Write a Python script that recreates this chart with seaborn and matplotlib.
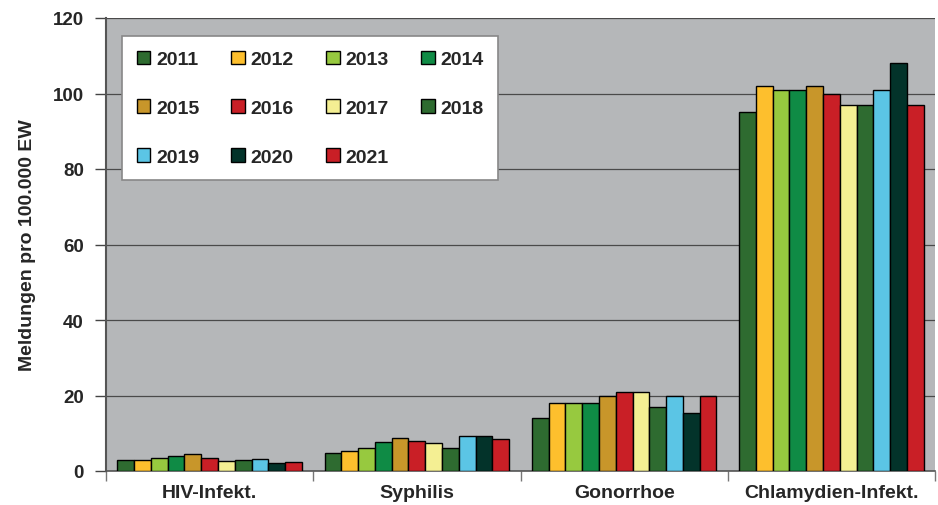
import matplotlib
matplotlib.use("Agg")
import matplotlib.pyplot as plt
import seaborn as sns
import pandas as pd
from matplotlib.ticker import FixedLocator

categories = ["HIV-Infekt.", "Syphilis", "Gonorrhoe", "Chlamydien-Infekt."]
years = ["2011", "2012", "2013", "2014", "2015", "2016", "2017", "2018", "2019", "2020", "2021"]
hiv = [2.8, 3.0, 3.4, 4.1, 4.5, 3.4, 2.6, 3.0, 3.2, 2.1, 2.4]
syphilis = [4.8, 5.4, 6.1, 7.8, 8.7, 7.9, 7.3, 6.1, 9.3, 9.3, 8.5]
gonorrhoe = [14.0, 18.0, 18.0, 18.0, 19.9, 21.0, 21.0, 17.0, 20.0, 15.3, 20.0]
chlamydien = [95.0, 102.0, 101.0, 101.0, 102.0, 100.0, 97.0, 97.0, 101.0, 108.0, 97.0]
colors = ["#2e6b30", "#fdbf2d", "#97c93f", "#0f8b45", "#c8962a", "#c91f26",
          "#f4ef93", "#2e6b30", "#5bc5e5", "#03332a", "#c91f26"]

rows = []
for cat, vals in zip(categories, [hiv, syphilis, gonorrhoe, chlamydien]):
    for y, v in zip(years, vals):
        rows.append({"Kategorie": cat, "Jahr": y, "Wert": v})
df = pd.DataFrame(rows)

sns.set_style("white")
plt.rcParams["font.family"] = ["Liberation Sans", "DejaVu Sans"]

fig = plt.figure(figsize=(9.38, 5.06), dpi=100)
ax = fig.add_axes([106/938, 1 - 472/506, (935 - 106)/938, (472 - 19)/506])
ax.set_facecolor("#b5b7b9")

sns.barplot(data=df, x="Kategorie", y="Wert", hue="Jahr", order=categories,
            hue_order=years, palette=colors, width=0.89, edgecolor="black",
            linewidth=1.0, saturation=1, ax=ax, zorder=3)

ax.set_ylim(0, 120)
ax.set_xlim(-0.5, 3.5)
ax.set_yticks(range(0, 121, 20))
ax.yaxis.grid(True, color="#4a4a4a", linewidth=0.9, zorder=0)
ax.set_axisbelow(True)
ax.tick_params(axis="y", which="major", direction="out", length=8, width=1,
               color="#444444", labelsize=13.5, pad=8, left=True)
for lbl in ax.get_yticklabels():
    lbl.set_fontweight("bold")
ax.tick_params(axis="x", which="major", length=0, labelsize=14, pad=9)
for lbl in ax.get_xticklabels():
    lbl.set_fontweight("bold")
ax.xaxis.set_minor_locator(FixedLocator([-0.5, 0.5, 1.5, 2.5, 3.5]))
ax.tick_params(axis="x", which="minor", direction="out", length=7, width=1,
               color="#777777", bottom=True)

ax.set_xlabel("")
ax.set_ylabel("Meldungen pro 100.000 EW", fontsize=14, fontweight="bold", labelpad=12)

for side in ["top", "right"]:
    ax.spines[side].set_visible(False)
ax.spines["left"].set_color("#555555")
ax.spines["left"].set_linewidth(1.5)
ax.spines["bottom"].set_color("#555555")
ax.spines["bottom"].set_linewidth(1.2)

handles, labels = ax.get_legend_handles_labels()
if ax.legend_:
    ax.legend_.remove()
order = [0, 4, 8, 1, 5, 9, 2, 6, 10, 3, 7]
leg = ax.legend([handles[i] for i in order], [labels[i] for i in order], ncol=4,
                loc="upper left", bbox_to_anchor=(16/829, 1 - 18/453), frameon=True,
                fancybox=False, edgecolor="#888888", facecolor="white", framealpha=1,
                prop={"weight": "bold", "size": 14}, handlelength=0.7, handleheight=0.7,
                handletextpad=0.3, columnspacing=1.65, labelspacing=1.6,
                borderpad=0.75, borderaxespad=0)
leg.get_frame().set_linewidth(1.2)
leg.set_zorder(5)

fig.savefig("out.png", dpi=100, facecolor="white")
